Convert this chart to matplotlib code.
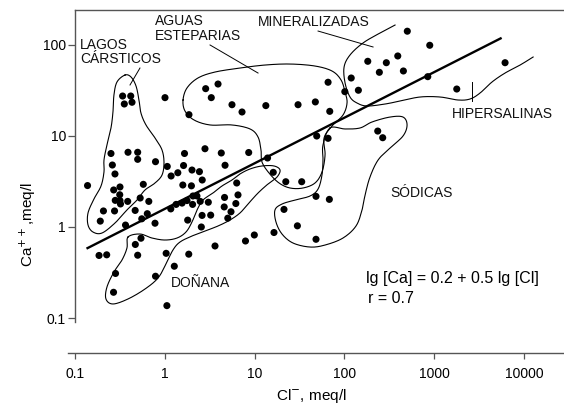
import numpy as np
import matplotlib
matplotlib.use("Agg")
import matplotlib.pyplot as plt
from matplotlib.ticker import FixedLocator, FixedFormatter, NullLocator

plt.rcParams['font.family'] = ['Liberation Sans', 'DejaVu Sans']

# chloride (x) and calcium (y) in meq/l, one pair per sample
cl = [0.337, 0.415, 0.352, 0.429, 1.0, 2.84, 3.90, 3.28, 1.85, 5.58,
      7.22, 13.3, 30.4, 47.4, 68.6, 65.7, 101, 502, 893, 182,
      293, 393, 245, 454, 849, 119, 143, 1786, 6170, 49.1,
      65.7, 235, 267, 22.2, 33.4, 48.2, 67.9, 21.2, 29.9, 48.2,
      2.79, 4.24, 8.57, 13.9, 4.67, 16.1, 6.30, 6.51, 4.61, 6.16,
      4.57, 5.44, 5.01, 3.61, 7.89, 9.90, 16.4, 0.250, 0.387, 0.496,
      0.496, 0.784, 0.259, 0.277, 0.137, 0.268, 0.315, 0.313, 0.279, 0.315,
      0.319, 0.384, 0.573, 0.529, 0.660, 0.465, 0.635, 0.551, 0.363, 0.774,
      0.206, 0.274, 0.190, 1.65, 1.06, 1.39, 1.17, 1.61, 2.00, 2.42,
      1.58, 1.97, 2.60, 1.16, 1.33, 1.55, 1.76, 2.05, 2.27, 2.03,
      2.47, 3.04, 1.79, 2.59, 3.23, 2.54, 0.467, 0.540, 0.496, 0.184,
      0.224, 1.03, 1.84, 1.27, 0.281, 0.784, 0.267, 1.05]
ca = [27.4, 27.4, 22.4, 23.4, 26.3, 33.0, 37.1, 26.3, 17.1, 22.0,
      18.3, 21.5, 22.0, 23.6, 18.6, 38.8, 30.6, 141, 98.8, 65.9,
      63.6, 75.4, 49.9, 51.6, 44.7, 43.2, 31.7, 32.7, 63.6, 9.97,
      9.41, 11.3, 9.55, 3.14, 3.14, 2.17, 2.01, 1.56, 1.03, 0.733,
      7.23, 6.49, 6.57, 5.72, 4.76, 3.98, 3.04, 2.25, 2.11, 1.81,
      1.66, 1.47, 1.25, 0.619, 0.702, 0.817, 0.870, 6.41, 6.61, 6.61,
      5.53, 5.21, 4.79, 3.82, 2.85, 2.55, 2.75, 2.26, 1.96, 1.95,
      1.79, 1.91, 2.94, 2.08, 1.91, 1.52, 1.40, 1.23, 1.05, 1.10,
      1.50, 1.50, 1.16, 6.41, 4.62, 3.94, 3.63, 4.73, 4.22, 4.05,
      2.89, 2.83, 3.28, 1.58, 1.77, 1.83, 1.95, 2.19, 2.19, 1.77,
      1.91, 1.87, 1.19, 1.34, 1.35, 1.00, 0.643, 0.753, 0.490, 0.487,
      0.495, 0.514, 0.503, 0.371, 0.309, 0.288, 0.192, 0.137]

# regression lg[Ca] = a + b lg[Cl]
reg_a, reg_b, reg_r = 0.2, 0.5, 0.7
reg_cl = [0.137, 5500]

# group outlines, vertices given as (lg Cl, lg Ca)
lagos_outline = [(-0.446, 1.668), (-0.379, 1.647), (-0.323, 1.548), (-0.290, 1.394),
                 (-0.268, 1.251), (-0.212, 1.120), (-0.111, 0.977), (-0.033, 0.845),
                 (-0.011, 0.703), (-0.033, 0.571), (-0.111, 0.483), (-0.223, 0.406),
                 (-0.312, 0.296), (-0.424, 0.187), (-0.557, 0.044), (-0.702, -0.066),
                 (-0.803, -0.055), (-0.858, 0.022), (-0.858, 0.154), (-0.792, 0.307),
                 (-0.713, 0.450), (-0.680, 0.604), (-0.680, 0.735), (-0.647, 0.900),
                 (-0.602, 1.087), (-0.580, 1.262), (-0.569, 1.449), (-0.535, 1.592)]
esteparias_outline = [(0.201, 1.394), (0.245, 1.526), (0.368, 1.636), (0.557, 1.701),
                      (0.836, 1.745), (1.115, 1.778), (1.394, 1.789), (1.672, 1.767),
                      (1.862, 1.712), (1.962, 1.614), (2.007, 1.482), (2.029, 1.361),
                      (1.984, 1.229), (1.862, 1.109), (1.773, 0.977), (1.784, 0.790),
                      (1.750, 0.604), (1.672, 0.483), (1.538, 0.428), (1.394, 0.428),
                      (1.271, 0.483), (1.159, 0.593), (1.081, 0.714), (1.070, 0.845),
                      (1.037, 0.988), (0.948, 1.076), (0.747, 1.120), (0.502, 1.120),
                      (0.323, 1.175), (0.223, 1.273)]
mineral_outline = [(2.564, 2.217), (2.397, 2.130), (2.207, 2.020), (2.062, 1.888),
                   (1.996, 1.756), (2.007, 1.581), (2.062, 1.427), (2.140, 1.361),
                   (2.252, 1.328), (2.453, 1.350), (2.620, 1.383), (2.843, 1.427),
                   (3.066, 1.427), (3.266, 1.394), (3.400, 1.405), (3.512, 1.471),
                   (3.645, 1.592), (3.790, 1.690), (3.958, 1.778), (4.103, 1.866)]
sodicas_outline = [(1.839, 1.087), (2.007, 1.076), (2.174, 1.087), (2.308, 1.153),
                   (2.508, 1.207), (2.653, 1.207), (2.698, 1.120), (2.653, 0.999),
                   (2.508, 0.867), (2.375, 0.735), (2.285, 0.549), (2.230, 0.351),
                   (2.196, 0.187), (2.129, 0.011), (1.984, -0.121), (1.784, -0.198),
                   (1.616, -0.220), (1.427, -0.176), (1.304, -0.077), (1.237, 0.055),
                   (1.226, 0.187), (1.304, 0.252), (1.449, 0.296), (1.616, 0.340),
                   (1.706, 0.417), (1.750, 0.571), (1.761, 0.735), (1.761, 0.900)]
donana_outline = [(-0.412, -0.110), (-0.279, -0.077), (-0.145, -0.121), (0.000, -0.143),
                  (0.134, -0.121), (0.234, -0.055), (0.301, 0.055), (0.357, 0.187),
                  (0.424, 0.296), (0.535, 0.373), (0.635, 0.450), (0.747, 0.516),
                  (0.836, 0.582), (0.948, 0.637), (1.081, 0.670), (1.215, 0.670),
                  (1.282, 0.626), (1.249, 0.549), (1.148, 0.472), (1.037, 0.373),
                  (0.925, 0.252), (0.836, 0.154), (0.725, 0.077), (0.591, 0.011),
                  (0.446, -0.044), (0.301, -0.099), (0.167, -0.165), (0.089, -0.252),
                  (0.011, -0.406), (-0.078, -0.560), (-0.223, -0.681), (-0.412, -0.790),
                  (-0.580, -0.845), (-0.658, -0.790), (-0.647, -0.659), (-0.569, -0.494),
                  (-0.479, -0.362), (-0.424, -0.231)]

# leader lines from labels to their groups (lg Cl, lg Ca)
leaders = [[(-0.279, 1.745), (-0.390, 1.559)],
           [(0.502, 1.998), (1.037, 1.690)],
           [(1.706, 2.151), (2.319, 1.976)],
           [(3.423, 1.592), (3.423, 1.383)]]

group_labels = ["LAGOS\nCÁRSTICOS", "AGUAS\nESTEPARIAS", "MINERALIZADAS",
                "HIPERSALINAS", "SÓDICAS", "DOÑANA"]
group_label_xy = [(0.113, 83.4), (0.774, 151), (10.9, 178),
                  (1585, 17.4), (322, 2.36), (1.17, 0.243)]

x_ticks = [0.1, 1, 10, 100, 1000, 10000]
x_ticklabels = ["0.1", "1", "10", "100", "1000", "10000"]
y_ticks = [0.1, 1, 10, 100]
y_ticklabels = ["0.1", "1", "10", "100"]


def smooth(pts, closed=True, n=14):
    """Catmull-Rom curve through the vertices, returned in linear units."""
    p = np.asarray(pts, float)
    if closed:
        p = np.vstack([p[-1], p, p[0], p[1]])
    else:
        p = np.vstack([p[0], p, p[-1]])
    t = np.linspace(0, 1, n, endpoint=False)[:, None]
    segs = []
    for i in range(1, len(p) - 2):
        p0, p1, p2, p3 = p[i - 1], p[i], p[i + 1], p[i + 2]
        segs.append(0.5 * (2 * p1 + (p2 - p0) * t
                           + (2 * p0 - 5 * p1 + 4 * p2 - p3) * t ** 2
                           + (3 * p1 - p0 - 3 * p2 + p3) * t ** 3))
    segs.append(p[-2][None])
    xy = np.vstack(segs)
    return 10 ** xy[:, 0], 10 ** xy[:, 1]


fig = plt.figure(figsize=(5.64, 4.05), dpi=100)
ax = fig.add_axes([75 / 564, 1 - 322 / 405, 489 / 564, 312 / 405])
ax.set_xscale('log')
ax.set_yscale('log')
ax.set_xlim(0.0993, 28000)
ax.set_ylim(0.0906, 241)

for outline, closed in [(lagos_outline, True), (esteparias_outline, True),
                        (mineral_outline, False), (sodicas_outline, True),
                        (donana_outline, True)]:
    ox, oy = smooth(outline, closed)
    ax.plot(ox, oy, color='black', lw=0.8)

for seg in leaders:
    s = np.array(seg)
    ax.plot(10 ** s[:, 0], 10 ** s[:, 1], color='black', lw=0.7)

reg_cl = np.array(reg_cl)
ax.plot(reg_cl, 10 ** (reg_a + reg_b * np.log10(reg_cl)), color='black', lw=1.7)

ax.scatter(cl, ca, s=26, color='black', edgecolors='none', zorder=3)

for txt, (tx, ty) in zip(group_labels, group_label_xy):
    ax.text(tx, ty, txt, fontsize=10, ha='left', va='center', color='#111111',
            linespacing=1.05)

ax.text(174, 0.275, f"lg [Ca] = {reg_a} + {reg_b} lg [Cl]", fontsize=11.5,
        ha='left', va='center')
ax.text(183, 0.166, f"r = {reg_r}", fontsize=11.5, ha='left', va='center')

# axis styling: open frame with the x axis set apart below
ax.spines['right'].set_visible(False)
ax.spines['bottom'].set_position(('outward', 22.3))
ax.spines['bottom'].set_bounds(0.083, 28000)
for side in ['left', 'top', 'bottom']:
    ax.spines[side].set_color('#555555')
    ax.spines[side].set_linewidth(1.0)

ax.xaxis.set_major_locator(FixedLocator(x_ticks))
ax.xaxis.set_major_formatter(FixedFormatter(x_ticklabels))
ax.xaxis.set_minor_locator(NullLocator())
ax.yaxis.set_major_locator(FixedLocator(y_ticks))
ax.yaxis.set_major_formatter(FixedFormatter(y_ticklabels))
ax.yaxis.set_minor_locator(NullLocator())
ax.tick_params(axis='x', length=4, width=0.9, pad=6, labelsize=10, color='#555555')
ax.tick_params(axis='y', length=5, width=0.9, pad=1.5, labelsize=10, color='#555555')

fig.text(311 / 564, 1 - 396 / 405, "Cl$^{-}$, meq/l", fontsize=11,
         ha='center', va='center')
fig.text(28 / 564, 1 - 225 / 405, "Ca$^{++}$,meq/l", fontsize=11,
         ha='center', va='center', rotation=90)

fig.savefig("out.png", dpi=100)
